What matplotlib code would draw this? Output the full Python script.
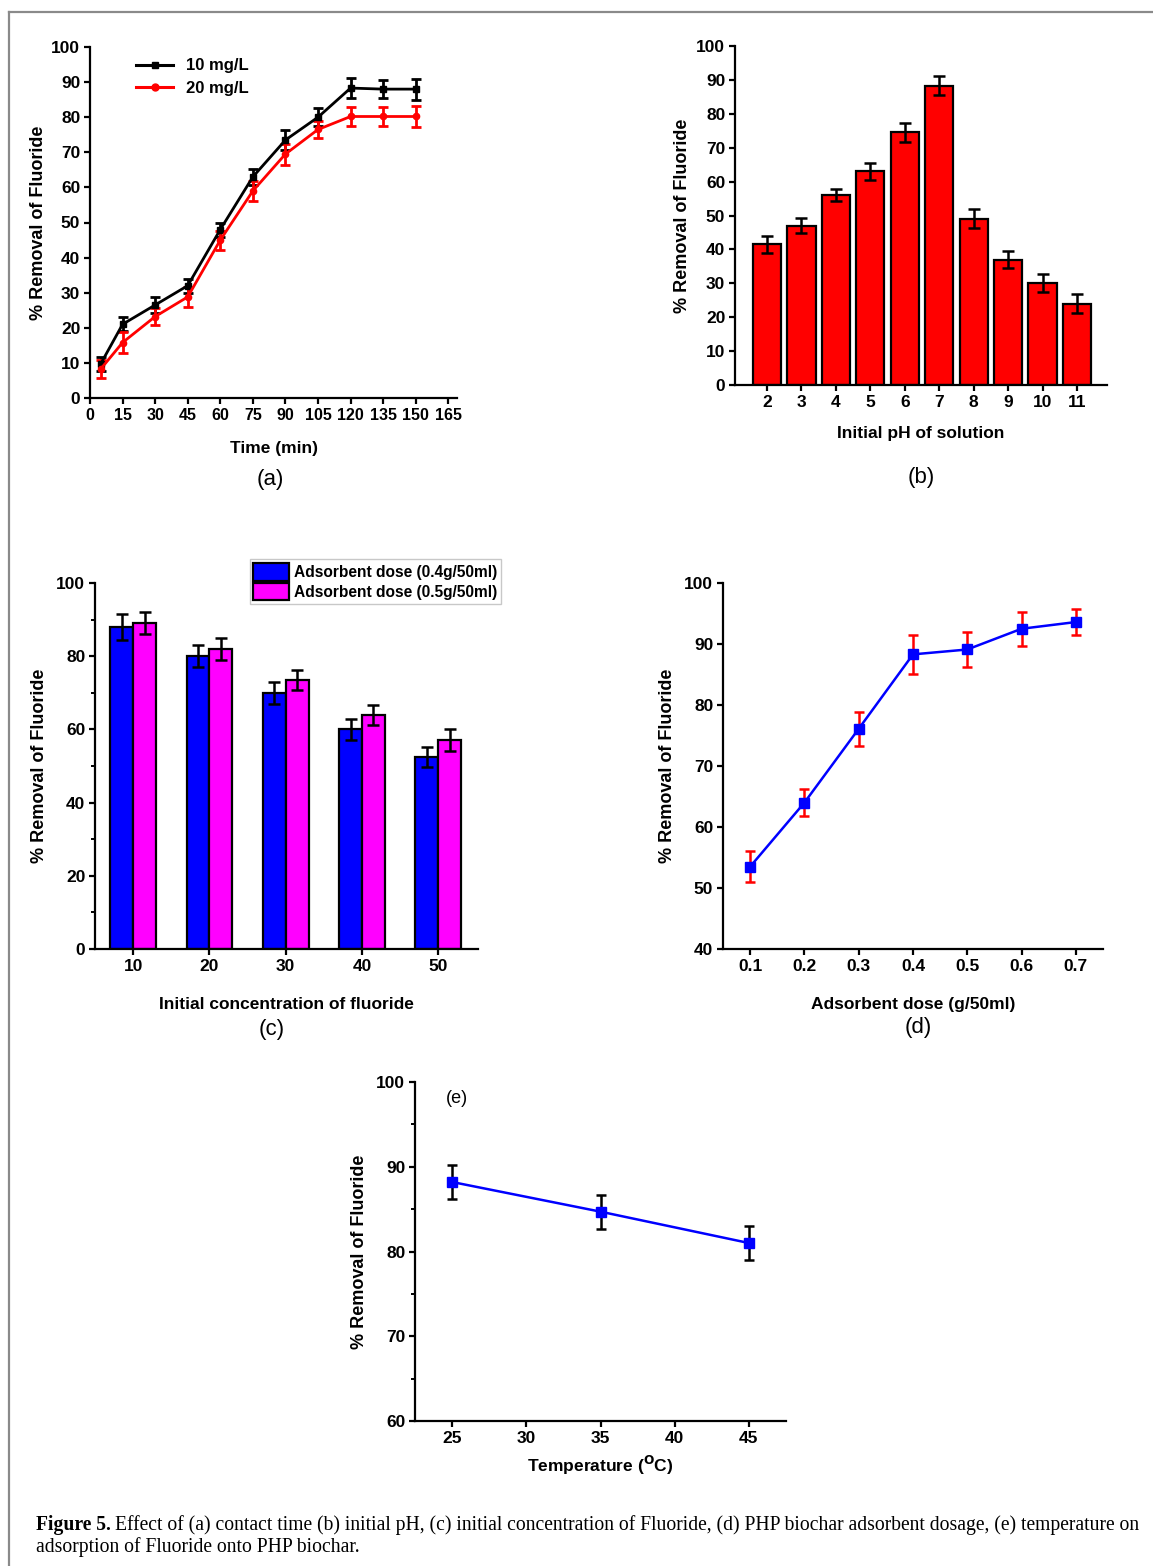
import numpy as np
import matplotlib
matplotlib.use("Agg")
import matplotlib.pyplot as plt
from matplotlib.lines import Line2D

# ---- data ----
# (a) contact time
time_min = [5, 15, 30, 45, 60, 75, 90, 105, 120, 135, 150]
rem_10 = [9.8, 21.0, 26.5, 32.0, 48.0, 63.0, 73.5, 80.0, 88.3, 88.0, 88.0]
err_10 = [2.0, 2.0, 2.2, 2.0, 2.0, 2.3, 2.8, 2.5, 2.8, 2.5, 3.0]
rem_20 = [8.3, 15.8, 23.2, 28.8, 45.0, 59.0, 69.5, 76.5, 80.2, 80.2, 80.2]
err_20 = [2.5, 3.0, 2.5, 2.8, 2.7, 2.8, 3.0, 2.5, 2.8, 2.8, 3.0]

# (b) initial pH
ph = [2, 3, 4, 5, 6, 7, 8, 9, 10, 11]
rem_ph = [41.5, 47.0, 56.0, 63.0, 74.5, 88.3, 49.0, 37.0, 30.0, 24.0]
err_ph = [2.5, 2.2, 1.8, 2.5, 2.8, 2.8, 2.8, 2.5, 2.7, 2.8]

# (c) initial concentration
conc = [10, 20, 30, 40, 50]
rem_04 = [88.0, 80.0, 70.0, 60.0, 52.5]
err_04 = [3.5, 3.0, 3.0, 2.8, 2.8]
rem_05 = [89.2, 82.0, 73.5, 64.0, 57.0]
err_05 = [3.0, 3.0, 2.8, 2.7, 3.0]
dose_labels = ["Adsorbent dose (0.4g/50ml)", "Adsorbent dose (0.5g/50ml)"]

# (d) adsorbent dose
dose = [0.1, 0.2, 0.3, 0.4, 0.5, 0.6, 0.7]
rem_dose = [53.5, 64.0, 76.1, 88.3, 89.1, 92.5, 93.6]
err_dose = [2.5, 2.2, 2.8, 3.2, 2.9, 2.8, 2.1]

# (e) temperature
temp = [25, 35, 45]
rem_temp = [88.2, 84.7, 81.0]
err_temp = [2.0, 2.0, 2.0]

W, H = 1153, 1566
fig = plt.figure(figsize=(W / 100, H / 100), dpi=100)
fig.patch.set_facecolor("white")

SANS = ["Liberation Sans", "DejaVu Sans"]
TICK_FS = 12.5
LAB_FS = 12.5


def px_axes(l, t, r, b):
    return fig.add_axes([l / W, 1 - b / H, (r - l) / W, (b - t) / H])


def style(ax, xfs=TICK_FS):
    for s in ["top", "right"]:
        ax.spines[s].set_visible(False)
    for s in ["left", "bottom"]:
        ax.spines[s].set_linewidth(1.6)
    ax.tick_params(which="major", direction="out", length=4, width=1.6, pad=3)
    ax.tick_params(which="minor", direction="out", length=3, width=1.4)
    for lab in ax.get_yticklabels():
        lab.set_fontfamily(SANS)
        lab.set_fontweight("bold")
        lab.set_fontsize(TICK_FS)
    for lab in ax.get_xticklabels():
        lab.set_fontfamily(SANS)
        lab.set_fontweight("bold")
        lab.set_fontsize(xfs)


def labels(ax, xl, yl):
    ax.set_xlabel(xl, fontsize=LAB_FS, fontweight="bold", family=SANS)
    ax.set_ylabel(yl, fontsize=LAB_FS + 0.5, fontweight="bold", family=SANS)


def panel_tag(x, y, s):
    fig.text(x / W, 1 - y / H, s, ha="center", va="center", fontsize=16,
             family=SANS)


ylab = "% Removal of Fluoride"

# ---- (a) ----
ax = px_axes(90, 47, 457, 398)
ax.errorbar(time_min, rem_10, yerr=err_10, color="black", lw=2, marker="s", ms=4,
            capsize=3.5, elinewidth=2, capthick=2, label="10 mg/L")
ax.errorbar(time_min, rem_20, yerr=err_20, color="red", lw=2, marker="o", ms=4.5,
            capsize=3.5, elinewidth=2, capthick=2, label="20 mg/L")
ax.set_xlim(0, 169)
ax.set_ylim(0, 100)
ax.set_xticks(np.arange(0, 166, 15))
ax.set_yticks(np.arange(0, 101, 10))
labels(ax, "Time (min)", ylab)
ax.xaxis.labelpad = 13
ax.yaxis.labelpad = 3
h = [Line2D([], [], color="black", lw=2.2, marker="s", ms=4),
     Line2D([], [], color="red", lw=2.2, marker="o", ms=5)]
ax.legend(h, ["10 mg/L", "20 mg/L"], loc="upper left", bbox_to_anchor=(0.085, 1.01),
          frameon=False, handlelength=2.2, handletextpad=0.8, labelspacing=0.45,
          prop={"family": SANS, "weight": "bold", "size": 12})
style(ax, xfs=11.5)
panel_tag(270, 480, "(a)")

# ---- (b) ----
ax = px_axes(735, 46, 1107, 385)
ax.bar(ph, rem_ph, width=0.82, color="#ff0000", edgecolor="black", lw=1.6,
       yerr=err_ph, capsize=4, error_kw={"elinewidth": 1.8, "capthick": 1.8})
ax.set_xlim(1.07, 11.87)
ax.set_ylim(0, 100)
ax.set_xticks(ph)
ax.set_yticks(np.arange(0, 101, 10))
labels(ax, "Initial pH of solution", ylab)
ax.xaxis.labelpad = 12
ax.yaxis.labelpad = 4
style(ax)
panel_tag(921, 478, "(b)")

# ---- (c) ----
ax = px_axes(95, 583, 478, 949)
cx = np.array(conc, dtype=float)
bw = 3.0
ax.bar(cx - bw / 2, rem_04, width=bw, color="#0000ff", edgecolor="black", lw=1.6,
       yerr=err_04, capsize=4, error_kw={"elinewidth": 1.8, "capthick": 1.8},
       label=dose_labels[0])
ax.bar(cx + bw / 2, rem_05, width=bw, color="#ff00ff", edgecolor="black", lw=1.6,
       yerr=err_05, capsize=4, error_kw={"elinewidth": 1.8, "capthick": 1.8},
       label=dose_labels[1])
ax.set_xlim(5, 55.2)
ax.set_ylim(0, 100)
ax.set_xticks(conc)
ax.set_yticks(np.arange(0, 101, 20))
ax.set_yticks(np.arange(10, 100, 20), minor=True)
labels(ax, "Initial concentration of fluoride", ylab)
ax.xaxis.labelpad = 17
ax.yaxis.labelpad = 6
leg = ax.legend(loc="upper right", bbox_to_anchor=(1.06, 1.065), frameon=True,
                fancybox=False, handlelength=2.3, handleheight=1.35, handletextpad=0.3,
                labelspacing=0.15, borderpad=0.25, borderaxespad=0,
                prop={"family": SANS, "size": 11.2, "weight": "bold"})
leg.get_frame().set_edgecolor("#bbbbbb")
leg.get_frame().set_linewidth(1.0)
style(ax)
panel_tag(272, 1030, "(c)")

# ---- (d) ----
ax = px_axes(723, 583, 1103, 949)
ax.errorbar(dose, rem_dose, yerr=err_dose, color="#0000ff", lw=1.8, marker="s", ms=7,
            ecolor="red", capsize=3.5, elinewidth=1.8, capthick=1.8)
ax.set_xlim(0.05, 0.75)
ax.set_ylim(40, 100)
ax.set_xticks(dose)
ax.set_xticklabels([f"{d:.1f}" for d in dose])
ax.set_yticks(np.arange(40, 101, 10))
labels(ax, "Adsorbent dose (g/50ml)", ylab)
ax.xaxis.labelpad = 17
ax.yaxis.labelpad = 6
style(ax)
panel_tag(918, 1027, "(d)")

# ---- (e) ----
ax = px_axes(415, 1082, 786, 1421)
ax.errorbar(temp, rem_temp, yerr=err_temp, color="#0000ff", lw=1.8, marker="s", ms=7,
            ecolor="black", capsize=3.5, elinewidth=1.8, capthick=1.8)
ax.set_xlim(22.5, 47.5)
ax.set_ylim(60, 100)
ax.set_xticks(np.arange(25, 46, 5))
ax.set_yticks(np.arange(60, 101, 10))
ax.set_yticks(np.arange(65, 100, 10), minor=True)
labels(ax, r"Temperature ($\mathbf{^{O}}$C)", ylab)
ax.xaxis.labelpad = 6
ax.yaxis.labelpad = 6
ax.text(25.3, 98.1, "(e)", fontsize=13, ha="center", va="center", family=SANS)
style(ax)

# ---- frame and caption ----
fig.add_artist(Line2D([9 / W, 9 / W], [0, 1 - 12 / H], color="#8a8a8a", lw=1.6))
fig.add_artist(Line2D([9 / W, 1], [1 - 12 / H, 1 - 12 / H], color="#8a8a8a", lw=1.6))

cap_fs = 14.1
serif = ["Liberation Serif", "DejaVu Serif"]
t1 = fig.text(36 / W, 1 - 1525 / H, "Figure 5.", fontsize=cap_fs, fontweight="bold",
              family=serif, va="center")
fig.canvas.draw()
w1 = t1.get_window_extent().width
fig.text((36 + w1 + 4) / W, 1 - 1525 / H,
         "Effect of (a) contact time (b) initial pH, (c) initial concentration of Fluoride, "
         "(d) PHP biochar adsorbent dosage, (e) temperature on",
         fontsize=cap_fs, family=serif, va="center")
fig.text(36 / W, 1 - 1547 / H, "adsorption of Fluoride onto PHP biochar.",
         fontsize=cap_fs, family=serif, va="center")

fig.savefig("out.png", dpi=100)
